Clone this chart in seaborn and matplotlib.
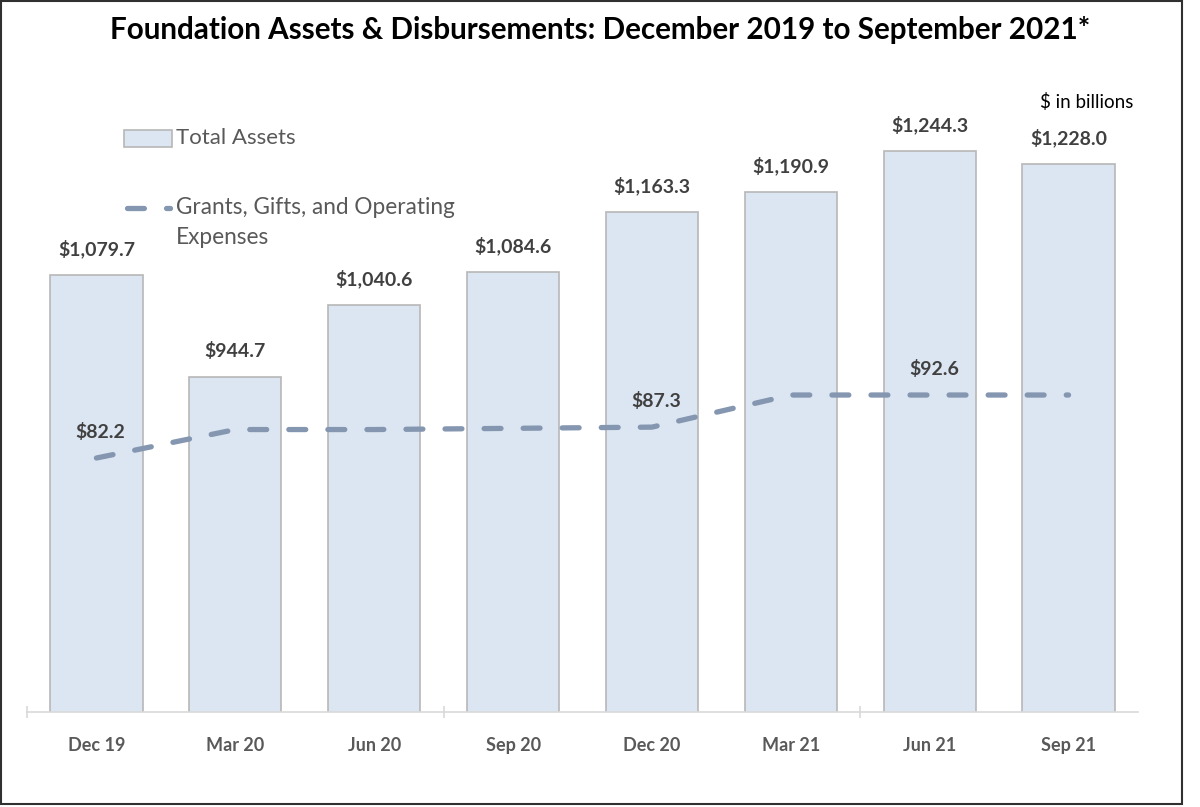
import numpy as np
import seaborn as sns
import matplotlib.pyplot as plt
from matplotlib.lines import Line2D
from matplotlib.patches import Rectangle

# data ($ in billions)
quarters = ['Dec 19', 'Mar 20', 'Jun 20', 'Sep 20', 'Dec 20', 'Mar 21', 'Jun 21', 'Sep 21']
total_assets = [1079.7, 944.7, 1040.6, 1084.6, 1163.3, 1190.9, 1244.3, 1228.0]
grants = [82.2, 86.9, 86.9, 87.1, 87.3, 92.6, 92.6, 92.6]
grant_labels = {0: '$82.2', 4: '$87.3', 6: '$92.6'}

BAR_FILL = '#dce6f2'
BAR_EDGE = '#b7b7b7'
LINE_COL = '#8496b0'
TXT_DARK = '#404040'
TXT_GREY = '#595959'

sns.set_style('white')
plt.rcParams['font.family'] = ['Lato', 'DejaVu Sans']

fig = plt.figure(figsize=(12, 8.07), dpi=100)
ax = fig.add_axes([27 / 1200, 1 - 712 / 807, (1138 - 27) / 1200, (712 - 34) / 807])

# Bars - total assets
sns.barplot(x=quarters, y=total_assets, color=BAR_FILL, edgecolor=BAR_EDGE,
            linewidth=1.2, width=0.664, saturation=1, ax=ax)
ax.set_ylim(500, 1400)
ax.set_xlim(-0.5, len(quarters) - 0.5)
for i, v in enumerate(total_assets):
    ax.annotate(f'${v:,.1f}', (i, v), xytext=(0, 12), textcoords='offset points',
                ha='center', va='bottom', fontsize=14, fontweight='bold', color=TXT_DARK)

# Secondary axis - grants, gifts and operating expenses
ax2 = ax.twinx()
x_pos = np.arange(len(quarters))
sns.lineplot(x=x_pos, y=grants, color=LINE_COL, linewidth=3.8, ax=ax2)
ln = ax2.lines[0]
ln.set_dashes([3.2, 4.2])
ln.set_dash_capstyle('round')
ax2.set_ylim(40.27, 152.2)
for i, lab in grant_labels.items():
    ax2.annotate(lab, (i, grants[i]), xytext=(3, 12), textcoords='offset points',
                 ha='center', va='bottom', fontsize=14, fontweight='bold', color=TXT_DARK)

# axis styling
for a in (ax, ax2):
    for s in ['top', 'right', 'left']:
        a.spines[s].set_visible(False)
    a.set_yticks([])
    a.set_ylabel('')
ax2.spines['bottom'].set_visible(False)
ax.spines['bottom'].set_color('#d9d9d9')
ax.spines['bottom'].set_linewidth(1.2)
ax.tick_params(axis='x', length=0, pad=18, labelsize=13, labelcolor=TXT_GREY)
for t in ax.get_xticklabels():
    t.set_fontweight('bold')
ax.set_xticks([-0.5, 2.5, 5.5], minor=True)
ax.tick_params(axis='x', which='minor', bottom=True, length=8, direction='inout',
               color='#d9d9d9', width=1.2)

# title and unit note
fig.text(0.5, 1 - 30 / 807, 'Foundation Assets & Disbursements: December 2019 to September 2021*',
         ha='center', va='center', fontsize=21.3, fontweight='bold', color='black')
fig.text(1133 / 1200, 1 - 102 / 807, '$ in billions', ha='right', va='center',
         fontsize=13.5, color='black')

# legend drawn by hand to match the stacked layout
fig.patches.append(Rectangle((124 / 1200, 1 - 147 / 807), 48 / 1200, 17 / 807,
                             transform=fig.transFigure, facecolor=BAR_FILL,
                             edgecolor=BAR_EDGE, linewidth=1.2))
fig.text(176 / 1200, 1 - 138 / 807, 'Total Assets', ha='left', va='center',
         fontsize=16, color=TXT_GREY)
leg_line = Line2D([127 / 1200, 170 / 1200], [1 - 208 / 807, 1 - 208 / 807],
                  transform=fig.transFigure, color=LINE_COL, linewidth=3.8,
                  dashes=[3.2, 4.2], dash_capstyle='round')
fig.lines.append(leg_line)
fig.text(176 / 1200, 1 - 208 / 807, 'Grants, Gifts, and Operating', ha='left', va='center',
         fontsize=16.3, color=TXT_GREY)
fig.text(176 / 1200, 1 - 238 / 807, 'Expenses', ha='left', va='center',
         fontsize=16.3, color=TXT_GREY)

# outer frame
fig.patches.append(Rectangle((1 / 1200, 3 / 807), 1181 / 1200, 803 / 807,
                             transform=fig.transFigure, fill=False,
                             edgecolor='#303030', linewidth=1.5))

fig.savefig('out.png', dpi=100)
